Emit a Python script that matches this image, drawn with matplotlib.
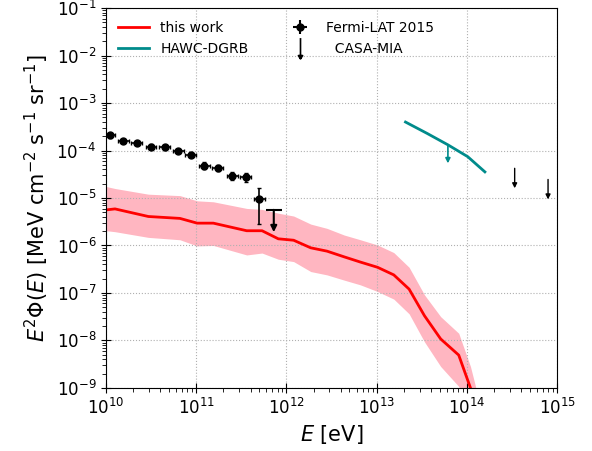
import numpy as np
import matplotlib
matplotlib.use("Agg")
import matplotlib.pyplot as plt
from matplotlib.lines import Line2D
from matplotlib.path import Path

# ---- data (log10 values) ----
work_logE = [10.007, 10.10, 10.47, 10.82, 11.01, 11.19, 11.56, 11.73, 11.91, 12.08,
             12.27, 12.45, 12.64, 12.82, 13.01, 13.19, 13.36, 13.53, 13.71, 13.91, 14.04, 14.10]
work_logF = [-5.25, -5.23, -5.39, -5.43, -5.53, -5.53, -5.69, -5.69, -5.86, -5.89,
             -6.05, -6.12, -6.24, -6.35, -6.46, -6.62, -6.92, -7.48, -7.97, -8.31, -9.00, -9.35]
work_hi = [-4.76, -4.80, -4.92, -4.95, -5.06, -5.08, -5.22, -5.24, -5.32, -5.38,
           -5.55, -5.64, -5.78, -5.88, -5.99, -6.15, -6.46, -7.04, -7.50, -7.85, -8.55, -9.00]
work_lo = [-5.69, -5.71, -5.83, -5.88, -6.01, -6.00, -6.20, -6.16, -6.29, -6.34,
           -6.55, -6.62, -6.73, -6.83, -6.97, -7.13, -7.44, -8.03, -8.55, -8.97, -9.60, -9.80]

fermi_logE = [10.044, 10.19, 10.34, 10.50, 10.65, 10.80, 10.94, 11.09, 11.24, 11.40, 11.55, 11.70]
fermi_logF = [-3.68, -3.80, -3.84, -3.92, -3.93, -4.01, -4.09, -4.32, -4.37, -4.54, -4.56, -5.03]
fermi_logF_hi = [-3.63, -3.75, -3.79, -3.87, -3.88, -3.96, -4.04, -4.25, -4.30, -4.45, -4.47, -4.78]
fermi_logF_lo = [-3.73, -3.85, -3.89, -3.97, -3.98, -4.06, -4.14, -4.39, -4.44, -4.63, -4.66, -5.55]
fermi_xerr_dex = 0.06
fermi_ul_logE = [11.86]
fermi_ul_logF = [-5.25]

hawc_logE = [13.32, 13.56, 13.79, 14.01, 14.20]
hawc_logF = [-3.40, -3.64, -3.88, -4.13, -4.45]
hawc_ul_logE = [13.79]
hawc_ul_logF = [-3.88]

casa_logE = [14.53, 14.90]
casa_logF = [-4.375, -4.61]

arrow_dex = 0.42

# ---- figure ----
fig = plt.figure(figsize=(5.92, 4.51), dpi=100)
ax = fig.add_axes([0.179, 0.140, 0.762, 0.842])

E = 10.0 ** np.array(work_logE)
ax.fill_between(E, 10.0 ** np.array(work_lo), 10.0 ** np.array(work_hi),
                color='#ffb6c1', lw=0, zorder=1)
ax.plot(E, 10.0 ** np.array(work_logF), color='red', lw=2, zorder=2)

fE = 10.0 ** np.array(fermi_logE)
fF = 10.0 ** np.array(fermi_logF)
yerr = [fF - 10.0 ** np.array(fermi_logF_lo), 10.0 ** np.array(fermi_logF_hi) - fF]
xerr = [fE - fE / 10 ** fermi_xerr_dex, fE * 10 ** fermi_xerr_dex - fE]
ax.errorbar(fE, fF, xerr=xerr, yerr=yerr, fmt='o', color='black', ms=5,
            elinewidth=1.2, capsize=1.5, zorder=4)

# Fermi upper limit (T-capped arrow)
for le, lf in zip(fermi_ul_logE, fermi_ul_logF):
    x = 10 ** le
    ax.annotate('', xy=(x, 10 ** (lf - 0.47)), xytext=(x, 10 ** lf),
                arrowprops=dict(arrowstyle='-|>', color='black', lw=1.5,
                                mutation_scale=9, shrinkA=0, shrinkB=0), zorder=4)
    ax.plot([x], [10 ** lf], marker='_', ms=11, mew=1.5, color='black', zorder=4)

ax.plot(10.0 ** np.array(hawc_logE), 10.0 ** np.array(hawc_logF), color='#008b8b', lw=2, zorder=3)
for le, lf in zip(hawc_ul_logE, hawc_ul_logF):
    x = 10 ** le
    ax.annotate('', xy=(x, 10 ** (lf - 0.39)), xytext=(x, 10 ** lf),
                arrowprops=dict(arrowstyle='-|>', color='#008b8b', lw=1.2,
                                mutation_scale=7, shrinkA=0, shrinkB=0), zorder=3)

for le, lf in zip(casa_logE, casa_logF):
    x = 10 ** le
    ax.annotate('', xy=(x, 10 ** (lf - arrow_dex)), xytext=(x, 10 ** lf),
                arrowprops=dict(arrowstyle='-|>', color='black', lw=1.0,
                                mutation_scale=7, shrinkA=0, shrinkB=0), zorder=3)

ax.set_xscale('log')
ax.set_yscale('log')
ax.set_xlim(1e10, 1e15)
ax.set_ylim(1e-9, 1e-1)
ax.grid(True, which='major', linestyle=':', color='#b0b0b0', lw=0.8)
ax.tick_params(which='major', direction='inout', length=7, labelsize=12)
ax.tick_params(which='minor', direction='out', length=3)
ax.yaxis.set_minor_locator(matplotlib.ticker.LogLocator(base=10, subs=np.arange(2, 10), numticks=20))
ax.yaxis.set_major_locator(matplotlib.ticker.LogLocator(base=10, numticks=20))
ax.set_xlabel(r'$E$ [eV]', fontsize=15)
ax.set_ylabel(r'$E^2\Phi(E)$ [MeV cm$^{-2}$ s$^{-1}$ sr$^{-1}$]', fontsize=15)

# thin down-arrow marker for the legend
arrow_path = Path([(0, 1), (0, -1), (-0.2, -0.68), (0.2, -0.68), (0, -1), (-0.2, -0.68)],
                  [Path.MOVETO, Path.LINETO, Path.MOVETO, Path.LINETO, Path.LINETO, Path.CLOSEPOLY])

handles = [
    Line2D([], [], color='red', lw=2),
    Line2D([], [], color='#008b8b', lw=2),
    ax.errorbar([], [], xerr=[], yerr=[], fmt='o', color='black', ms=5, capsize=1.5),
    Line2D([], [], marker=arrow_path, ms=15, mew=1.2, color='black', lw=0),
]
labels = ['this work', 'HAWC-DGRB', 'Fermi-LAT 2015', '  CASA-MIA']
ax.legend(handles, labels, loc='upper left', ncol=2, frameon=False, fontsize=10,
          columnspacing=2.6, handlelength=2.2)

fig.savefig('out.png', dpi=100)
